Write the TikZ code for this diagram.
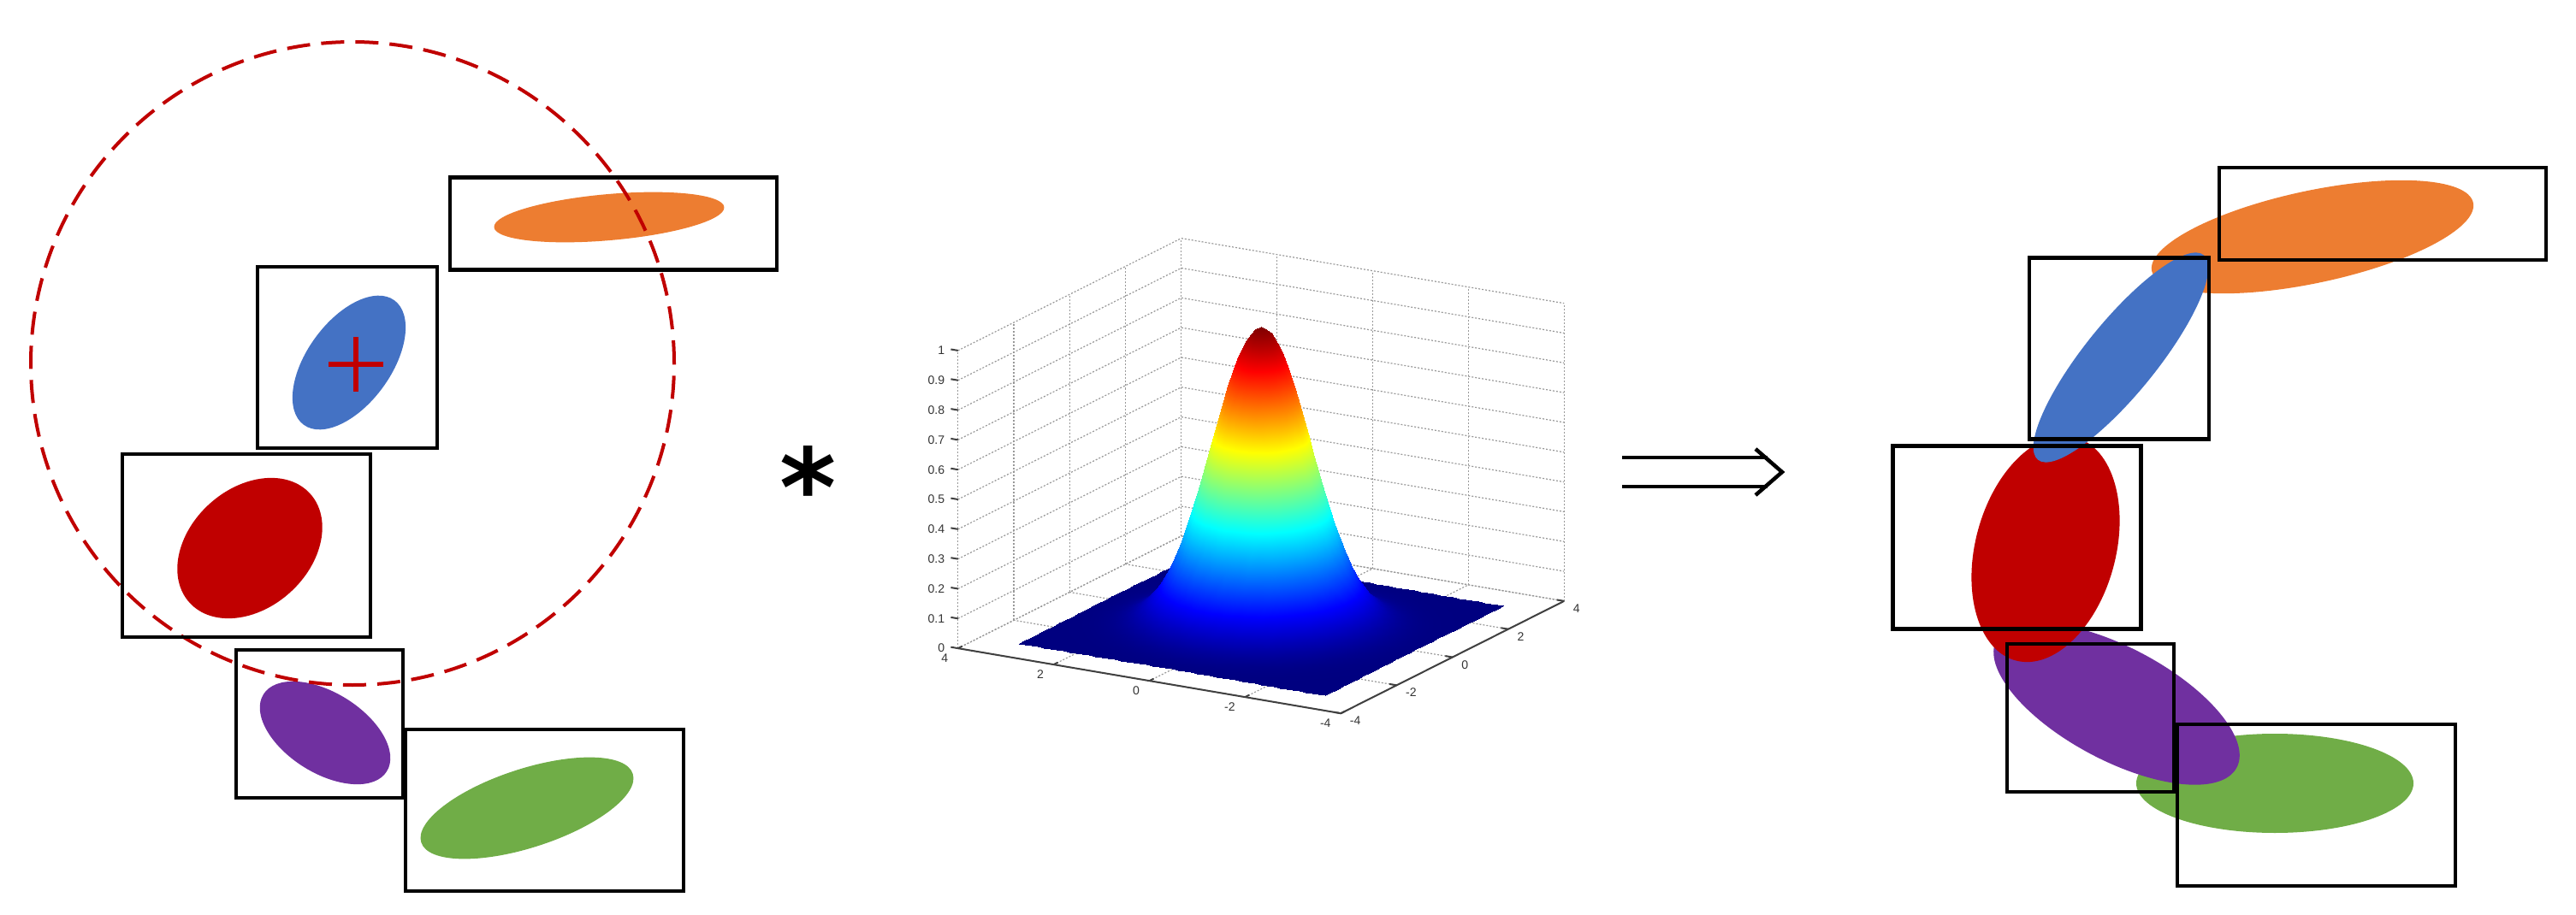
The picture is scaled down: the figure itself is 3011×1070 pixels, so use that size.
\documentclass[tikz,border=0pt]{standalone}
\usepackage{fontspec}
\usepackage{pgfplots}
\pgfplotsset{compat=1.18}
\newfontfamily\labfont{Liberation Sans}
\newfontfamily\astfont{DejaVu Sans}
\definecolor{cOrange}{HTML}{ED7D31}
\definecolor{cBlue}{HTML}{4472C4}
\definecolor{cRed}{HTML}{C00000}
\definecolor{cPurple}{HTML}{7030A0}
\definecolor{cGreen}{HTML}{70AD47}
\tikzset{
  bbox/.style={draw=black, line width=0.045cm, inner sep=0pt},
  ringdash/.style={draw=cRed, line width=0.04cm, dash pattern=on 0.27cm off 0.13cm},
  gridl/.style={draw=black!40, line width=0.012cm, dash pattern=on 0.02cm off 0.02cm},
  axl/.style={draw=black!75, line width=0.02cm},
  tlab/.style={font={\labfont\fontsize{4}{4}\selectfont}, text=black!80, inner sep=0pt},
  arrline/.style={line width=0.045cm, line cap=butt},
}
\begin{document}
\begin{tikzpicture}[x=0.01cm,y=0.01cm]
\useasboundingbox (0,0) rectangle (3011,-1070);

% ---------------- left group ----------------
\fill[cOrange, rotate around={5:(712,-254)}] (712,-254) ellipse [x radius=135, y radius=27];
\fill[cBlue, rotate around={54:(408,-424)}] (408,-424) ellipse [x radius=90, y radius=49];
\fill[cRed, rotate around={42:(292,-641)}] (292,-641) ellipse [x radius=95, y radius=70];
\fill[cPurple, rotate around={-32:(380,-857)}] (380,-857) ellipse [x radius=85, y radius=47];
\fill[cGreen, rotate around={18:(616,-945)}] (616,-945) ellipse [x radius=130, y radius=46];

\coordinate (circC) at (412,-425);
\draw[ringdash] (circC) circle [radius=376];
\coordinate (crossC) at (416,-426);
\draw[cRed, line width=0.065cm] (crossC) ++(-32,0) -- ++(64,0) (crossC) ++(0,32) -- ++(0,-64);

\node[bbox, minimum width=3.82cm, minimum height=1.08cm] (bo1) at (717,-261.5) {};
\node[bbox, minimum width=2.10cm, minimum height=2.12cm] (bb1) at (406,-418) {};
\node[bbox, minimum width=2.90cm, minimum height=2.14cm] (br1) at (288,-638) {};
\node[bbox, minimum width=1.95cm, minimum height=1.73cm] (bp1) at (373.5,-846.5) {};
\node[bbox, minimum width=3.25cm, minimum height=1.89cm] (bg1) at (636.5,-947.5) {};

% ---------------- asterisk ----------------
\node[font={\astfont\bfseries\fontsize{36}{36}\selectfont}, inner sep=0pt] (ast) at (945,-569) {*};

% ---------------- gaussian plot ----------------
\coordinate (gorig) at (1474,-730.5);
\begin{scope}[shift={(gorig)}, x={(-0.559cm,0.095cm)}, y={(0.326cm,0.164cm)}, z={(0cm,3.48cm)}]
  \foreach \k in {0,...,10} {
    \draw[gridl] (4,-4,\k/10) -- (4,4,\k/10) -- (-4,4,\k/10);
  }
  \foreach \t in {-4,-2,0,2,4} {
    \draw[gridl] (4,\t,0) -- (4,\t,1);
    \draw[gridl] (\t,4,0) -- (\t,4,1);
    \draw[gridl] (\t,-4,0) -- (\t,4,0);
    \draw[gridl] (-4,\t,0) -- (4,\t,0);
  }
\end{scope}

\begin{axis}[
  at={(gorig)}, anchor=origin,
  x={(-0.559cm,0.095cm)}, y={(0.326cm,0.164cm)}, z={(0cm,3.48cm)},
  disabledatascaling,
  xmin=-4, xmax=4, ymin=-4, ymax=4, zmin=0, zmax=1,
  hide axis, clip=false,
  colormap/jet, point meta min=0, point meta max=1,
]
\addplot3[surf, shader=interp, domain=-3.2:3.2, y domain=-3.2:3.2, samples=49, z buffer=reverse xy seq] {exp(-(x^2+y^2)/1.6)};
\end{axis}

\begin{scope}[shift={(gorig)}, x={(-0.559cm,0.095cm)}, y={(0.326cm,0.164cm)}, z={(0cm,3.48cm)}]
  \draw[axl] (4,-4,0) -- (-4,-4,0) -- (-4,4,0);
  \foreach \t [count=\i] in {4,2,0,-2,-4} {
    \draw[axl] (\t,-4,0) -- (\t,-3.85,0);
    \node[tlab, anchor=north east, xshift=-0.11cm, yshift=-0.06cm] (xl\i) at (\t,-4,0) {\t};
  }
  \foreach \t [count=\i] in {-4,-2,0,2,4} {
    \draw[axl] (-4,\t,0) -- (-3.85,\t,0);
    \node[tlab, anchor=north west, xshift=0.10cm, yshift=-0.03cm] (yl\i) at (-4,\t,0) {\t};
  }
  \foreach \k/\lab in {0/0,1/0.1,2/0.2,3/0.3,4/0.4,5/0.5,6/0.6,7/0.7,8/0.8,9/0.9,10/1} {
    \draw[axl] (4,-4,\k/10) -- (4.15,-4,\k/10);
    \node[tlab, anchor=east, xshift=-0.15cm] (zl\k) at (4,-4,\k/10) {\lab};
  }
\end{scope}

% ---------------- implies arrow ----------------
\coordinate (arrS) at (1896,-552);
\coordinate (arrL) at (2066,-552);
\coordinate (arrE) at (2083,-552);
\draw[arrline, double, double distance=0.29cm] (arrS) -- (arrL);
\draw[arrline, line join=miter] (arrE) ++(-31,27) -- (arrE) -- ++(-31,-27);

% ---------------- right group ----------------
\fill[cGreen] (2659,-916) ellipse [x radius=162, y radius=58];
\fill[cPurple, rotate around={-28:(2474,-823)}] (2474,-823) ellipse [x radius=159, y radius=66];
\fill[cRed, rotate around={75:(2391,-642)}] (2391,-642) ellipse [x radius=135, y radius=82];
\fill[cOrange, rotate around={12:(2703,-277)}] (2703,-277) ellipse [x radius=192, y radius=54];
\fill[cBlue, rotate around={51:(2479,-418)}] (2479,-418) ellipse [x radius=154, y radius=42];

\node[bbox, minimum width=3.82cm, minimum height=1.08cm] (bo2) at (2785,-250) {};
\node[bbox, minimum width=2.10cm, minimum height=2.12cm] (bb2) at (2477,-407.5) {};
\node[bbox, minimum width=2.90cm, minimum height=2.14cm] (br2) at (2357.5,-628.5) {};
\node[bbox, minimum width=1.95cm, minimum height=1.73cm] (bp2) at (2443.5,-839.5) {};
\node[bbox, minimum width=3.25cm, minimum height=1.89cm] (bg2) at (2707.5,-941.5) {};
\end{tikzpicture}
\end{document}
